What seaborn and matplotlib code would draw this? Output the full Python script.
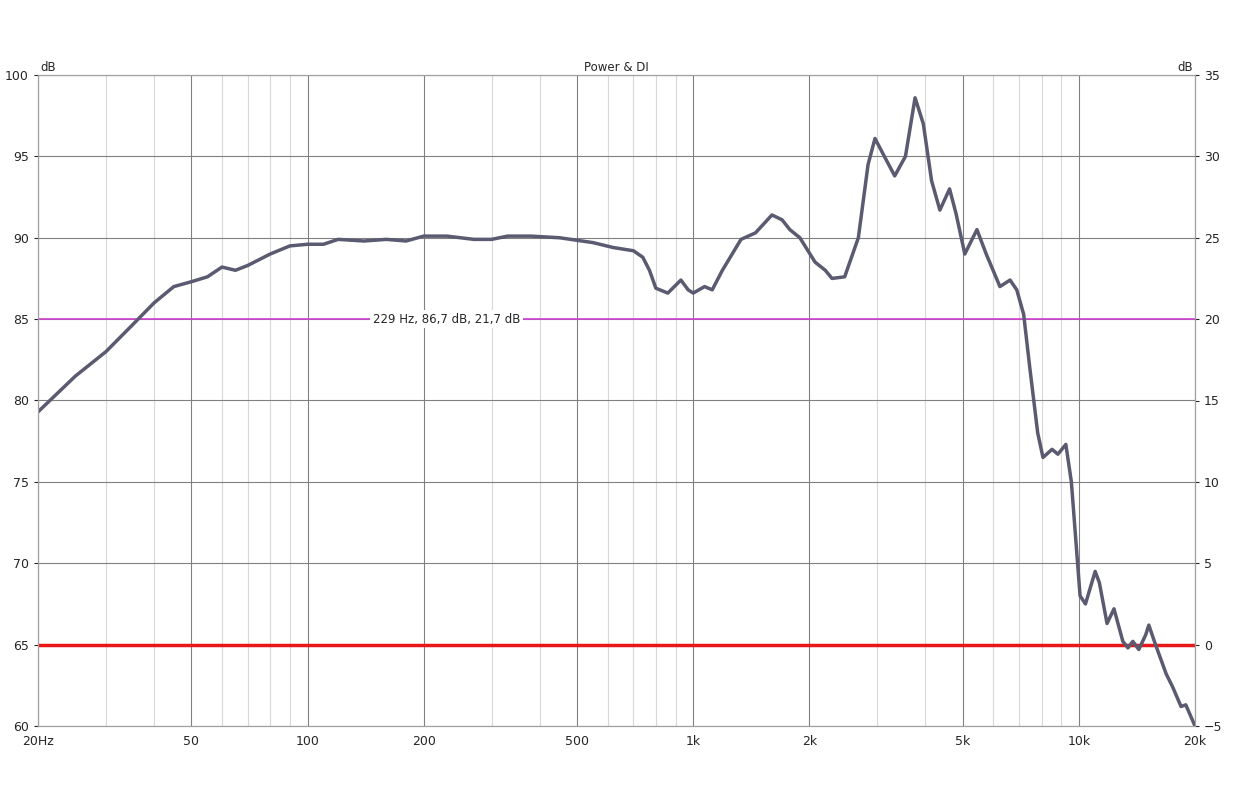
import numpy as np
import matplotlib
matplotlib.use("Agg")
import matplotlib.pyplot as plt
import seaborn as sns
import pandas as pd

freq = [20,25,30,35,40,45,50,55,60,65,70,80,90,100,110,120,140,160,180,200,230,270,300,330,380,450,550,620,700,740,770,800,859,929,970,1000,1070,1120,1190,1330,1450,1600,1700,1780,1890,2070,2200,2290,2470,2680,2840,2960,3130,3330,3550,3760,3950,4150,4360,4620,4800,5060,5440,5750,6240,6630,6900,7190,7460,7820,8070,8520,8820,9250,9560,10070,10400,11020,11300,11830,12330,13000,13400,13800,14300,14900,15180,15800,16840,17500,18400,18930,20000]
spl = [79.3,81.5,83,84.6,86,87,87.3,87.6,88.2,88,88.3,89,89.5,89.6,89.6,89.9,89.8,89.9,89.8,90.1,90.1,89.9,89.9,90.1,90.1,90.0,89.7,89.4,89.2,88.8,88.0,86.9,86.6,87.4,86.8,86.6,87.0,86.8,88,89.9,90.3,91.4,91.1,90.5,90,88.5,88.0,87.5,87.6,90,94.5,96.1,95,93.8,95.0,98.6,97.0,93.5,91.7,93,91.5,89,90.5,89.0,87,87.4,86.8,85.3,82,78,76.5,77,76.7,77.3,75,68,67.5,69.5,68.8,66.3,67.2,65.2,64.8,65.2,64.7,65.6,66.2,65,63.2,62.4,61.2,61.3,60]
ticks = [20,50,100,200,500,1000,2000,5000,10000,20000]
tick_labels = ["20Hz","50","100","200","500","1k","2k","5k","10k","20k"]
marker_text = "229 Hz, 86,7 dB, 21,7 dB"

sns.set_style("white")
plt.rcParams['font.family'] = ['DejaVu Sans']
fig = plt.figure(figsize=(12.38, 7.87), dpi=100)
ax = fig.add_axes([38/1238, 1-726/787, (1195-38)/1238, (726-75)/787])
ax.set_xscale("log")
ax.set_xlim(20, 20000)
ax.set_ylim(60, 100)
ax.axhline(85, color="#d040d0", lw=1.2, zorder=2)
ax.axhline(65, color="#e81818", lw=2.5, zorder=2)
df = pd.DataFrame({"f": freq, "db": spl})
sns.lineplot(data=df, x="f", y="db", ax=ax, color="#5a5a70", lw=2.5, zorder=3)
ax.set_xticks(ticks)
ax.set_xticklabels(tick_labels, fontsize=9)
ax.set_yticks(range(60, 101, 5))
ax.tick_params(labelsize=9, length=3)
ax.grid(True, which="major", color="#808080", lw=0.8)
ax.grid(True, which="minor", axis="x", color="#d8d8d8", lw=0.8)
ax.set_xlabel(""); ax.set_ylabel("")
for s in ax.spines.values():
    s.set_color("#a0a0a0")
ax.text(229, 85, marker_text, ha="center", va="center", fontsize=8.5,
        bbox=dict(facecolor="white", edgecolor="none", pad=2), zorder=4)
ax.set_title("Power & DI", fontsize=8.5, pad=3)
ax.text(0.002, 1.002, "dB", transform=ax.transAxes, fontsize=8.5, va="bottom")
ax.text(0.998, 1.002, "dB", transform=ax.transAxes, fontsize=8.5, va="bottom", ha="right")
ax2 = ax.twinx()
ax2.set_ylim(-5, 35)
ax2.set_yticks(range(-5, 36, 5))
ax2.tick_params(labelsize=9, length=3)
for s in ax2.spines.values():
    s.set_color("#a0a0a0")
fig.savefig("out.png", dpi=100)
